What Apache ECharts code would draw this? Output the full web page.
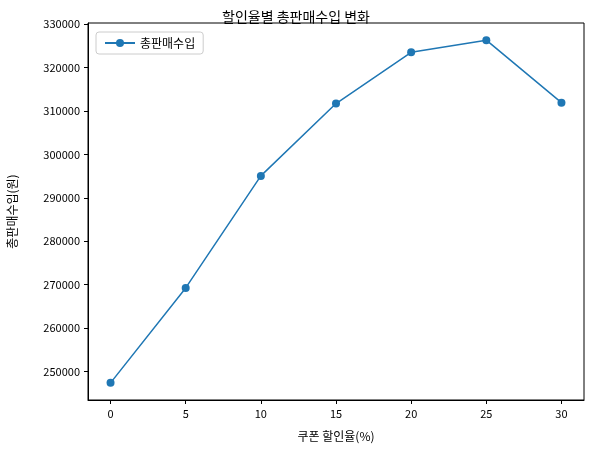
<!DOCTYPE html><html><head><meta charset="utf-8"><script src="https://cdn.jsdelivr.net/npm/echarts@6/dist/echarts.min.js"></script></head>
<body style="margin:0"><div id="c" style="width:592px;height:455px"></div><script>
const rates=[0,5,10,15,20,25,30];
const revenue=[247400,269250,295050,311700,323500,326300,311900];
const F='"Noto Sans CJK KR","DejaVu Sans",sans-serif';
const ch=echarts.init(document.getElementById('c'));
ch.setOption({animation:false,textStyle:{fontFamily:F},
title:{text:'할인율별 총판매수입 변화',left:'center',top:5,textStyle:{fontFamily:F,fontSize:14,fontWeight:'normal',color:'#000'}},
legend:{left:96,top:32,orient:'vertical',itemWidth:30,itemHeight:10,borderColor:'#ccc',borderWidth:1,borderRadius:3,padding:[5,8],textStyle:{fontFamily:F,fontSize:12,color:'#000'},data:['총판매수입']},
grid:{left:88,right:8,top:23,bottom:55,containLabel:false,outerBoundsMode:'none',show:true,borderColor:'#000',borderWidth:1,backgroundColor:'transparent'},
xAxis:{type:'value',min:-1.5,max:31.5,splitNumber:7,name:'쿠폰 할인율(%)',nameLocation:'middle',nameGap:30,nameTextStyle:{fontFamily:F,fontSize:12,color:'#000'},
axisLine:{onZero:false,lineStyle:{color:'#000'}},axisTick:{inside:false,lineStyle:{color:'#000'},length:4},splitLine:{show:false},axisLabel:{showMinLabel:false,showMaxLabel:false,color:'#000',fontSize:11}},
yAxis:{type:'value',min:243455,max:330245,splitNumber:9,name:'총판매수입(원)',nameLocation:'middle',nameGap:70,nameTextStyle:{fontFamily:F,fontSize:12,color:'#000'},
axisLine:{show:true,onZero:false,lineStyle:{color:'#000'}},axisTick:{show:true,inside:false,lineStyle:{color:'#000'},length:4},splitLine:{show:false},axisLabel:{showMinLabel:false,showMaxLabel:false,color:'#000',fontSize:11,formatter:v=>String(v)}},
series:[{name:'총판매수입',type:'line',data:rates.map((r,i)=>[r,revenue[i]]),symbol:'circle',symbolSize:8,itemStyle:{color:'#1f77b4'},lineStyle:{color:'#1f77b4',width:1.5}}]});
</script></body></html>
